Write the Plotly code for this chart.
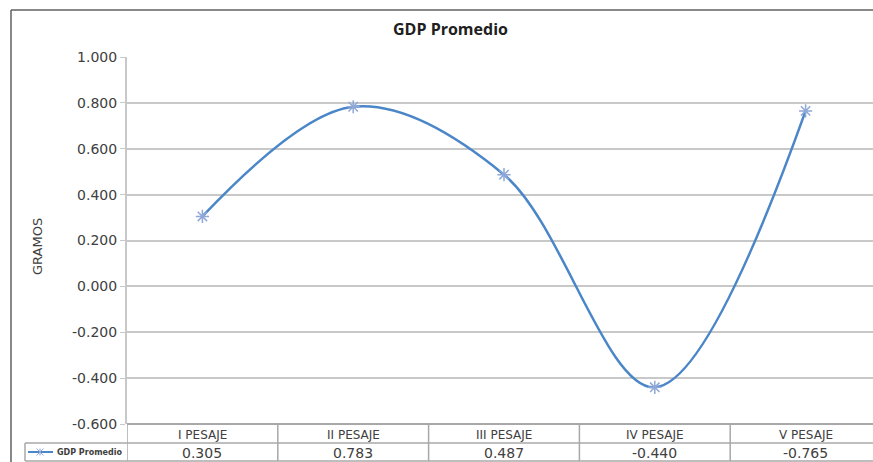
import plotly.graph_objects as go

# ---- data ----
categories = ["I PESAJE", "II PESAJE", "III PESAJE", "IV PESAJE", "V PESAJE"]
gdp_values = [0.305, 0.783, 0.487, -0.440, 0.765]
table_labels = ["0.305", "0.783", "0.487", "-0.440", "-0.765"]
y_ticks = [-0.6, -0.4, -0.2, 0.0, 0.2, 0.4, 0.6, 0.8, 1.0]
y_ticktext = ["-0.600", "-0.400", "-0.200", "0.000", "0.200", "0.400", "0.600", "0.800", "1.000"]
series_name = "GDP Promedio"
title_text = "GDP Promedio"
y_title = "GRAMOS"

W, H = 873, 462
L, R, T, B = 127, 0, 57, 462 - 424
PW = W - L - R
PH = H - T - B

def px(x):
    return (x - L) / PW

def py(y):
    return (H - B - y) / PH

LINE_C = "#4a86c8"
MARK_C = "#8fa8d8"
GRID_C = "#c8c8c8"
TABLE_C = "#a8a8a8"
TXT_C = "#404040"
FONT = "DejaVu Sans"

xs = list(range(len(categories)))

fig = go.Figure()
fig.add_trace(go.Scatter(
    x=xs, y=gdp_values, mode="lines+markers", name=series_name,
    line=dict(color=LINE_C, width=2.5, shape="spline", smoothing=1.0),
    marker=dict(symbol="asterisk-open", size=11, color=MARK_C, line=dict(color=MARK_C, width=1.5)),
    cliponaxis=False, showlegend=False,
))

shapes = []
annotations = []

# outer border (top and left)
shapes.append(dict(type="line", xref="paper", yref="paper", x0=px(11), x1=1.0, y0=py(10), y1=py(10),
                   line=dict(color="#606060", width=1.5)))
shapes.append(dict(type="line", xref="paper", yref="paper", x0=px(11), x1=px(11), y0=py(10), y1=py(470),
                   line=dict(color="#606060", width=1.5)))

# data table
row_top, row_mid, row_bot = 424, 443, 461
for yy, x0 in [(row_mid, 25), (row_bot, 25)]:
    shapes.append(dict(type="line", xref="paper", yref="paper", x0=px(x0), x1=1.0, y0=py(yy), y1=py(yy),
                       line=dict(color=TABLE_C, width=1.5)))
for i in range(len(categories)):
    shapes.append(dict(type="line", xref="x", yref="paper", x0=i - 0.5, x1=i - 0.5,
                       y0=py(row_top), y1=py(row_bot), line=dict(color=TABLE_C, width=1.5)))
shapes.append(dict(type="line", xref="paper", yref="paper", x0=px(25), x1=px(25),
                   y0=py(row_mid), y1=py(row_bot), line=dict(color=TABLE_C, width=1.5)))
shapes.append(dict(type="line", xref="paper", yref="paper", x0=0, x1=1.0, y0=0, y1=0,
                   line=dict(color=TABLE_C, width=2)))

for i, (c, v) in enumerate(zip(categories, table_labels)):
    annotations.append(dict(x=i, xref="x", y=py((row_top + row_mid) / 2 + 1), yref="paper", text=c,
                            showarrow=False, font=dict(family=FONT, size=12, color=TXT_C),
                            xanchor="center", yanchor="middle"))
    annotations.append(dict(x=i, xref="x", y=py((row_mid + row_bot) / 2 + 1), yref="paper", text=v,
                            showarrow=False, font=dict(family=FONT, size=14, color=TXT_C),
                            xanchor="center", yanchor="middle"))

# legend key in table
ly = (row_mid + row_bot) / 2
shapes.append(dict(type="line", xref="paper", yref="paper", x0=px(28), x1=px(53), y0=py(ly), y1=py(ly),
                   line=dict(color=LINE_C, width=2)))
cx, r = 40, 3.5
shapes.append(dict(type="line", xref="paper", yref="paper", x0=px(cx), x1=px(cx), y0=py(ly - r), y1=py(ly + r),
                   line=dict(color=MARK_C, width=1)))
shapes.append(dict(type="line", xref="paper", yref="paper", x0=px(cx - r), x1=px(cx + r), y0=py(ly - r), y1=py(ly + r),
                   line=dict(color=MARK_C, width=1)))
shapes.append(dict(type="line", xref="paper", yref="paper", x0=px(cx - r), x1=px(cx + r), y0=py(ly + r), y1=py(ly - r),
                   line=dict(color=MARK_C, width=1)))
annotations.append(dict(x=px(55), xref="paper", y=py(ly), yref="paper", text="<b>" + series_name + "</b>",
                        showarrow=False, font=dict(family=FONT, size=8, color=TXT_C),
                        xanchor="left", yanchor="middle"))

# title and y title
annotations.append(dict(x=px(450), xref="paper", y=py(29), yref="paper", text="<b>" + title_text + "</b>",
                        showarrow=False, font=dict(family="Open Sans", size=16, color="#202020"),
                        xanchor="center", yanchor="middle"))
annotations.append(dict(x=px(37), xref="paper", y=py(247), yref="paper", text=y_title, textangle=-90,
                        showarrow=False, font=dict(family=FONT, size=13, color=TXT_C),
                        xanchor="center", yanchor="middle"))

fig.update_layout(
    width=W, height=H,
    margin=dict(l=L, r=R, t=T, b=B),
    paper_bgcolor="white", plot_bgcolor="white",
    showlegend=False,
    shapes=shapes, annotations=annotations,
    xaxis=dict(range=[-0.5, 4.447], showticklabels=False, showgrid=False, zeroline=False,
               showline=False, fixedrange=True),
    yaxis=dict(range=[-0.6, 1.0], tickvals=y_ticks, ticktext=y_ticktext,
               showgrid=True, gridcolor=GRID_C, gridwidth=2, zeroline=False,
               showline=True, linecolor=GRID_C, linewidth=2,
               ticks="outside", ticklen=5, tickcolor=GRID_C, tickwidth=1,
               tickfont=dict(family=FONT, size=14, color=TXT_C), fixedrange=True),
)

fig.write_html(
    "out.html",
    config={"displayModeBar": False},
    post_script="document.body.style.margin='0';document.body.style.overflow='hidden';"
                "document.documentElement.style.overflow='hidden';",
)
